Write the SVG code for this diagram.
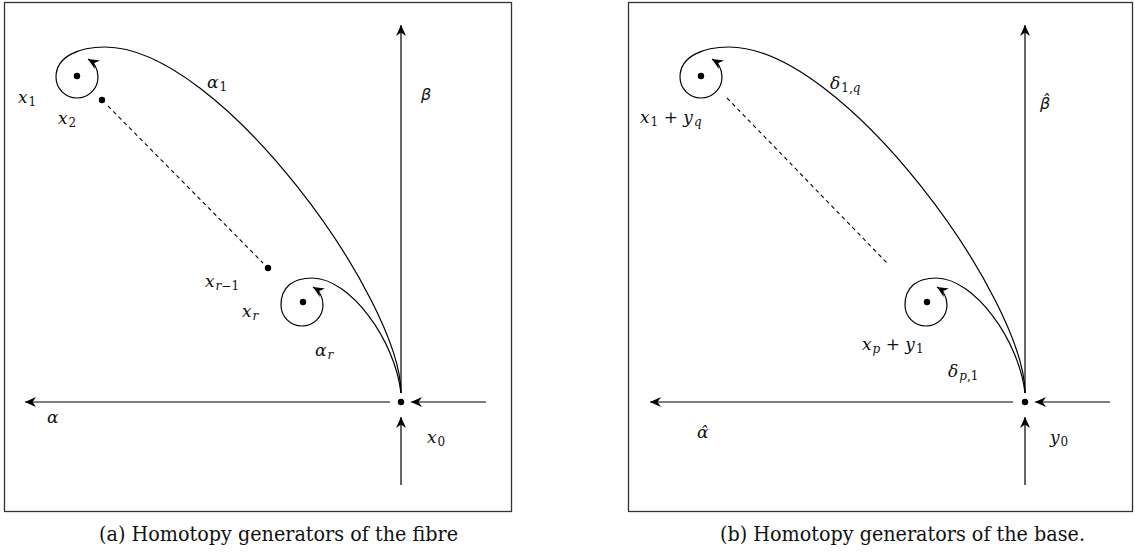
<svg xmlns="http://www.w3.org/2000/svg" width="1135" height="554" viewBox="0 0 1135 554">
<style>
.frame{fill:none;stroke:#333;stroke-width:1.3}
.ln{fill:none;stroke:#000;stroke-width:1.2}
.dash{fill:none;stroke:#000;stroke-width:1.1;stroke-dasharray:4 3.5}
.arr{marker-end:url(#ah)}
.dot{fill:#000}
.lbl{font-style:italic;font-size:17px;fill:#111}
.sub{font-size:12px;font-style:italic}
.num{font-style:normal}
.cap{font-size:20px;fill:#111}
</style>
<defs>
<marker id="ah" markerUnits="userSpaceOnUse" markerWidth="14" markerHeight="12" viewBox="-12 -6 14 12" refX="0" refY="0" orient="auto">
<path d="M0,0 L-11,-5 L-7.5,0 L-11,5 Z" fill="#000"/>
</marker>
</defs>
<rect class="frame" x="4.5" y="2.5" width="507" height="509"/>
<rect class="frame" x="628.5" y="2.5" width="504" height="509"/>
<g id="connectors-a">
<path class="ln arr" d="M390,402 L25,402"/>
<path class="ln arr" d="M486,402 L411,402"/>
<path class="ln arr" d="M401,485 L401,417"/>
<path class="ln arr" d="M401,393 L401,25"/>
<path class="ln arr" d="M401,393 C401,300 220,47 105,47 C80,47 56,56 56,77 A21,21 0 0 0 98,77 A21,21 0 0 0 88,59"/>
<path class="ln arr" d="M401,393 C395,340 350,278 312,278 C293,278 281,287 281,305 A21,21 0 0 0 323,305 A21,21 0 0 0 313,287"/>
<path class="dash" d="M108,106 L263,263"/>
</g>
<g id="nodes-a">
<circle id="x0-a" class="dot" cx="401" cy="402" r="3.2"/>
<circle id="x1-a" class="dot" cx="77" cy="76" r="3.2"/>
<circle id="x2-a" class="dot" cx="102" cy="100" r="3.2"/>
<circle id="xr1-a" class="dot" cx="268" cy="268" r="3.2"/>
<circle id="xr-a" class="dot" cx="303" cy="302" r="3.2"/>
</g>
<g id="labels-a" class="lbl" font-family="DejaVu Serif, serif">
<text x="18" y="103">x<tspan class="sub num" dx="1" dy="3">1</tspan></text>
<text x="58" y="124">x<tspan class="sub num" dx="1" dy="3">2</tspan></text>
<text x="207" y="88">α<tspan class="sub num" dx="1" dy="3">1</tspan></text>
<text x="421" y="100" font-family="DejaVu Sans, sans-serif" font-size="16">β</text>
<text x="205" y="287">x<tspan class="sub" dx="1" dy="3">r</tspan><tspan class="sub num">−1</tspan></text>
<text x="242" y="317">x<tspan class="sub" dx="1" dy="3">r</tspan></text>
<text x="315" y="356">α<tspan class="sub" dx="1" dy="3">r</tspan></text>
<text x="47" y="423">α</text>
<text x="427" y="443">x<tspan class="sub num" dx="1" dy="3">0</tspan></text>
</g>
<text class="cap" font-family="DejaVu Serif, serif" x="99" y="541" textLength="359" lengthAdjust="spacingAndGlyphs">(a) Homotopy generators of the fibre</text>
<g id="connectors-b">
<path class="ln arr" d="M1013,402 L650,402"/>
<path class="ln arr" d="M1110,402 L1035,402"/>
<path class="ln arr" d="M1025,485 L1025,417"/>
<path class="ln arr" d="M1025,393 L1025,25"/>
<path class="ln arr" d="M1025,393 C1025,300 844,47 729,47 C704,47 680,56 680,77 A21,21 0 0 0 722,77 A21,21 0 0 0 712,59"/>
<path class="ln arr" d="M1025,393 C1019,340 974,278 936,278 C917,278 905,287 905,305 A21,21 0 0 0 947,305 A21,21 0 0 0 937,287"/>
<path class="dash" d="M727,98 L888,264"/>
</g>
<g id="nodes-b">
<circle id="y0-b" class="dot" cx="1025" cy="402" r="3.2"/>
<circle id="x1yq-b" class="dot" cx="701" cy="76" r="3.2"/>
<circle id="xpy1-b" class="dot" cx="927" cy="302" r="3.2"/>
</g>
<g id="labels-b" class="lbl" font-family="DejaVu Serif, serif">
<text x="640" y="123">x<tspan class="sub num" dx="1" dy="3">1</tspan><tspan dy="-3" class="num"> + </tspan>y<tspan class="sub" dx="1" dy="3">q</tspan></text>
<text x="830" y="89">δ<tspan class="sub num" dx="1" dy="3">1,</tspan><tspan class="sub">q</tspan></text>
<text x="1040" y="109" font-family="DejaVu Sans, sans-serif" font-size="16">β&#x302;</text>
<text x="862" y="350">x<tspan class="sub" dx="1" dy="3">p</tspan><tspan dy="-3" class="num"> + </tspan>y<tspan class="sub num" dx="1" dy="3">1</tspan></text>
<text x="948" y="377">δ<tspan class="sub" dx="1" dy="3">p</tspan><tspan class="sub num">,1</tspan></text>
<text x="697" y="438">α&#x302;</text>
<text x="1050" y="443">y<tspan class="sub num" dx="1" dy="3">0</tspan></text>
</g>
<text class="cap" font-family="DejaVu Serif, serif" x="720" y="541" textLength="365" lengthAdjust="spacingAndGlyphs">(b) Homotopy generators of the base.</text>
</svg>
